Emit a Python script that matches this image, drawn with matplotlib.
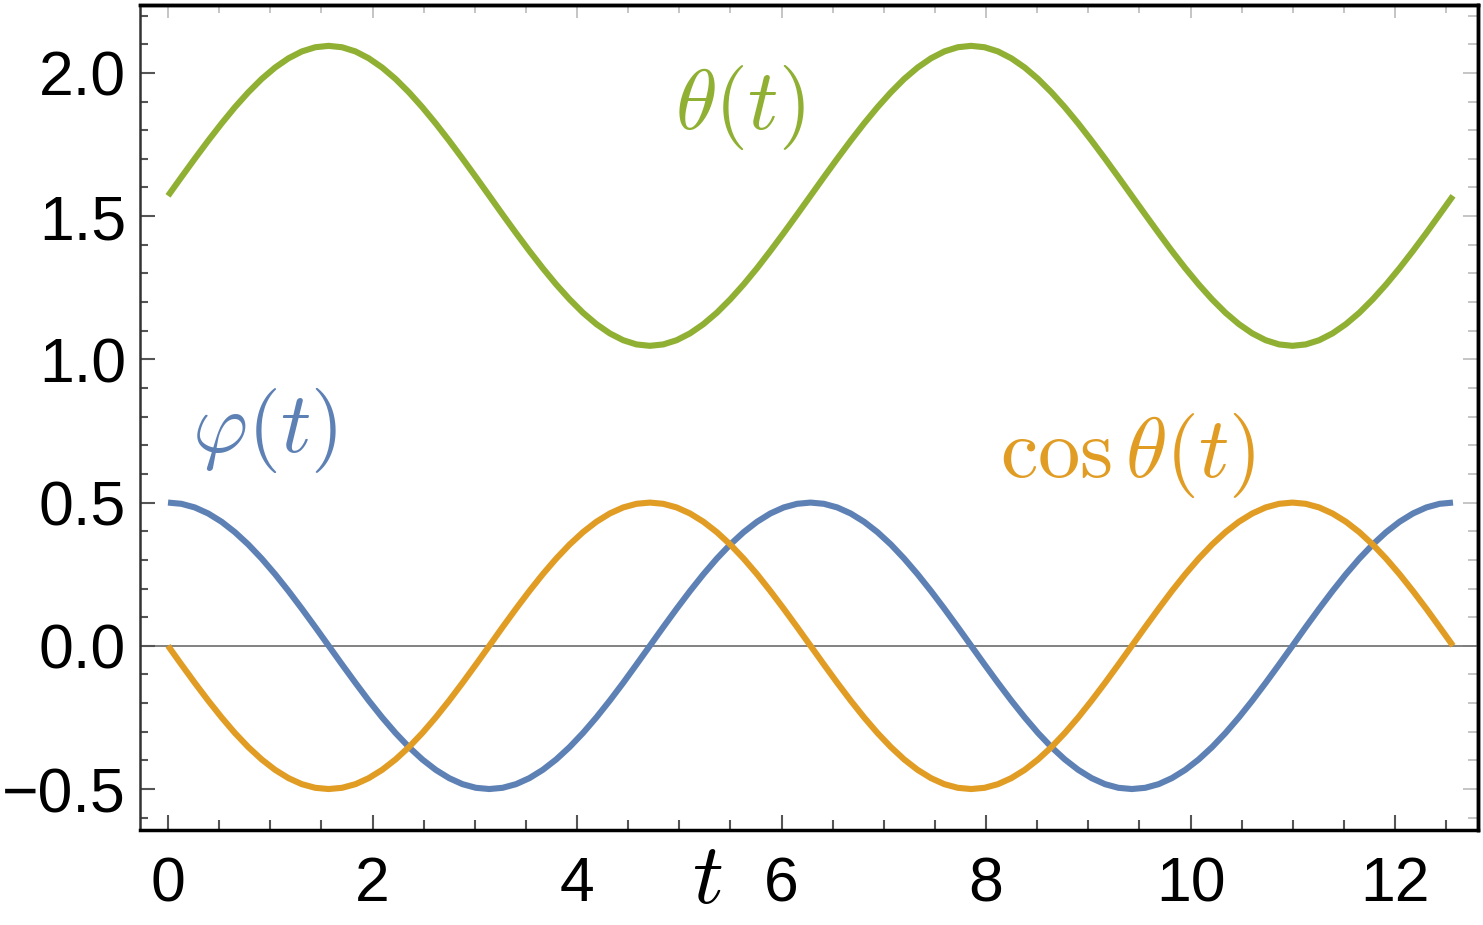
import matplotlib
matplotlib.use("Agg")
import matplotlib.pyplot as plt
from matplotlib.ticker import MultipleLocator, FuncFormatter

plt.rcParams['mathtext.fontset'] = 'cm'
plt.rcParams['font.family'] = ['Liberation Sans', 'DejaVu Sans']

# samples, step ~0.131 in t
t = [0, 0.131, 0.262, 0.393, 0.524, 0.654, 0.785, 0.916, 1.047, 1.178, 1.309, 1.440,
     1.571, 1.702, 1.833, 1.963, 2.094, 2.225, 2.356, 2.487, 2.618, 2.749, 2.880, 3.011,
     3.142, 3.272, 3.403, 3.534, 3.665, 3.796, 3.927, 4.058, 4.189, 4.320, 4.451, 4.581,
     4.712, 4.843, 4.974, 5.105, 5.236, 5.367, 5.498, 5.629, 5.760, 5.890, 6.021, 6.152,
     6.283, 6.414, 6.545, 6.676, 6.807, 6.938, 7.069, 7.199, 7.330, 7.461, 7.592, 7.723,
     7.854, 7.985, 8.116, 8.247, 8.378, 8.508, 8.639, 8.770, 8.901, 9.032, 9.163, 9.294,
     9.425, 9.556, 9.687, 9.817, 9.948, 10.079, 10.210, 10.341, 10.472, 10.603, 10.734, 10.865,
     10.996, 11.126, 11.257, 11.388, 11.519, 11.650, 11.781, 11.912, 12.043, 12.174, 12.305, 12.435,
     12.566]

phi = [0.5, 0.4957, 0.483, 0.4619, 0.433, 0.3967, 0.3536, 0.3044, 0.25, 0.1913, 0.1294, 0.0653,
       0, -0.0653, -0.1294, -0.1913, -0.25, -0.3044, -0.3536, -0.3967, -0.433, -0.4619, -0.483, -0.4957,
       -0.5, -0.4957, -0.483, -0.4619, -0.433, -0.3967, -0.3536, -0.3044, -0.25, -0.1913, -0.1294, -0.0653,
       0, 0.0653, 0.1294, 0.1913, 0.25, 0.3044, 0.3536, 0.3967, 0.433, 0.4619, 0.483, 0.4957,
       0.5, 0.4957, 0.483, 0.4619, 0.433, 0.3967, 0.3536, 0.3044, 0.25, 0.1913, 0.1294, 0.0653,
       0, -0.0653, -0.1294, -0.1913, -0.25, -0.3044, -0.3536, -0.3967, -0.433, -0.4619, -0.483, -0.4957,
       -0.5, -0.4957, -0.483, -0.4619, -0.433, -0.3967, -0.3536, -0.3044, -0.25, -0.1913, -0.1294, -0.0653,
       0, 0.0653, 0.1294, 0.1913, 0.25, 0.3044, 0.3536, 0.3967, 0.433, 0.4619, 0.483, 0.4957,
       0.5]

cos_theta = [0, -0.0653, -0.1294, -0.1913, -0.25, -0.3044, -0.3536, -0.3967, -0.433, -0.4619, -0.483, -0.4957,
             -0.5, -0.4957, -0.483, -0.4619, -0.433, -0.3967, -0.3536, -0.3044, -0.25, -0.1913, -0.1294, -0.0653,
             0, 0.0653, 0.1294, 0.1913, 0.25, 0.3044, 0.3536, 0.3967, 0.433, 0.4619, 0.483, 0.4957,
             0.5, 0.4957, 0.483, 0.4619, 0.433, 0.3967, 0.3536, 0.3044, 0.25, 0.1913, 0.1294, 0.0653,
             0, -0.0653, -0.1294, -0.1913, -0.25, -0.3044, -0.3536, -0.3967, -0.433, -0.4619, -0.483, -0.4957,
             -0.5, -0.4957, -0.483, -0.4619, -0.433, -0.3967, -0.3536, -0.3044, -0.25, -0.1913, -0.1294, -0.0653,
             0, 0.0653, 0.1294, 0.1913, 0.25, 0.3044, 0.3536, 0.3967, 0.433, 0.4619, 0.483, 0.4957,
             0.5, 0.4957, 0.483, 0.4619, 0.433, 0.3967, 0.3536, 0.3044, 0.25, 0.1913, 0.1294, 0.0653,
             0]

theta = [1.5708, 1.6362, 1.7006, 1.7633, 1.8235, 1.8801, 1.9322, 1.9789, 2.0186, 2.0509, 2.0749, 2.0895,
         2.0944, 2.0895, 2.0749, 2.0509, 2.0186, 1.9789, 1.9322, 1.8801, 1.8235, 1.7633, 1.7006, 1.6362,
         1.5708, 1.5055, 1.4410, 1.3783, 1.3181, 1.2615, 1.2094, 1.1627, 1.1230, 1.0907, 1.0668, 1.0521,
         1.0472, 1.0521, 1.0668, 1.0907, 1.1230, 1.1627, 1.2094, 1.2615, 1.3181, 1.3783, 1.4410, 1.5055,
         1.5708, 1.6362, 1.7006, 1.7633, 1.8235, 1.8801, 1.9322, 1.9789, 2.0186, 2.0509, 2.0749, 2.0895,
         2.0944, 2.0895, 2.0749, 2.0509, 2.0186, 1.9789, 1.9322, 1.8801, 1.8235, 1.7633, 1.7006, 1.6362,
         1.5708, 1.5055, 1.4410, 1.3783, 1.3181, 1.2615, 1.2094, 1.1627, 1.1230, 1.0907, 1.0668, 1.0521,
         1.0472, 1.0521, 1.0668, 1.0907, 1.1230, 1.1627, 1.2094, 1.2615, 1.3181, 1.3783, 1.4410, 1.5055,
         1.5708]

blue = '#5E81B5'
orange = '#E19C24'
green = '#8FB032'

fig = plt.figure(figsize=(14.83, 9.25), dpi=100)
ax = fig.add_axes([0.0944, 0.1027, 0.9022, 0.8919])

ax.axhline(0, color='#777777', lw=1.3, zorder=1)
ax.plot(t, phi, color=blue, lw=4.4, solid_capstyle='butt')
ax.plot(t, cos_theta, color=orange, lw=4.4, solid_capstyle='butt')
ax.plot(t, theta, color=green, lw=4.4, solid_capstyle='butt')

ax.set_xlim(-0.274, 12.81)
ax.set_ylim(-0.643, 2.237)

ax.xaxis.set_major_locator(MultipleLocator(2))
ax.xaxis.set_minor_locator(MultipleLocator(0.5))
ax.yaxis.set_major_locator(MultipleLocator(0.5))
ax.yaxis.set_minor_locator(MultipleLocator(0.1))
ax.yaxis.set_major_formatter(FuncFormatter(lambda v, p: f"{v:.1f}".replace('-', '\u2212')))

ax.tick_params(which='both', direction='in', color='#555555', width=1.5,
               labelsize=45, top=False, right=False)
ax.tick_params(axis='x', which='major', length=11, pad=18)
ax.tick_params(axis='x', which='minor', length=7)
ax.tick_params(axis='y', which='major', length=11, pad=10)
ax.tick_params(axis='y', which='minor', length=6)

# light mirrored ticks on top and right
top = ax.secondary_xaxis('top')
top.xaxis.set_major_locator(MultipleLocator(2))
top.xaxis.set_minor_locator(MultipleLocator(0.5))
top.tick_params(which='both', direction='in', color='#bbbbbb', width=1.2, labeltop=False)
top.tick_params(which='major', length=9)
top.tick_params(which='minor', length=6)
top.spines['top'].set_linewidth(2.5)

right = ax.secondary_yaxis('right')
right.yaxis.set_major_locator(MultipleLocator(0.5))
right.yaxis.set_minor_locator(MultipleLocator(0.1))
right.tick_params(which='both', direction='in', color='#bbbbbb', width=1.2, labelright=False)
right.tick_params(which='major', length=11)
right.tick_params(which='minor', length=7)
right.spines['right'].set_linewidth(2.5)

ax.spines['left'].set_linewidth(1.8)
ax.spines['left'].set_color('#333333')
ax.spines['bottom'].set_linewidth(2.5)
ax.spines['top'].set_linewidth(2.5)
ax.spines['right'].set_linewidth(2.5)

ax.text(5.59, 1.878, r'$\theta(t)$', color=green, fontsize=61, ha='center', va='center')
ax.text(0.95, 0.753, r'$\varphi(t)$', color=blue, fontsize=61, ha='center', va='center')
ax.text(9.39, 0.666, r'$\cos\theta(t)$', color=orange, fontsize=61, ha='center', va='center')
ax.text(5.27, -0.962, r'$t$', fontsize=62, ha='center', va='bottom', clip_on=False)

fig.savefig('out.png', dpi=100)
